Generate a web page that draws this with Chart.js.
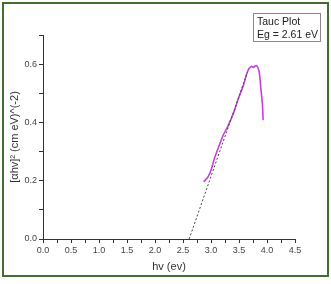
<!DOCTYPE html>
<html>
<head>
<meta charset="utf-8">
<script src="https://cdn.jsdelivr.net/npm/chart.js@4"></script>
<style>
    html, body { margin: 0; padding: 0; background: #fff; }
    #wrap { position: relative; width: 331px; height: 284px; }
    #frame {
        position: absolute; left: 2px; top: 2px; width: 323px; height: 271px;
        border: 2px solid #3f6e2e; pointer-events: none;
    }
    #note {
        position: absolute; left: 253px; top: 13px; width: 63px; height: 26px;
        border: 1px solid #888; padding: 1px 0 0 3px;
        font: 10.5px "Liberation Sans", Arial, sans-serif; color: #222; line-height: 13px;
    }
</style>
</head>
<body>
<div id="wrap">
    <canvas id="taucChart" width="331" height="284"></canvas>
    <div id="frame"></div>
    <div id="note">Tauc Plot<br>Eg = 2.61 eV</div>
</div>
<script>
// Tauc plot data
const photonEnergy = [2.87, 2.95, 3.01, 3.07, 3.16, 3.22, 3.31, 3.40, 3.49, 3.58, 3.64, 3.68, 3.73, 3.76, 3.79, 3.82, 3.86, 3.89, 3.92, 3.93];
const absorption = [0.196, 0.214, 0.242, 0.282, 0.328, 0.357, 0.391, 0.431, 0.482, 0.528, 0.568, 0.585, 0.593, 0.589, 0.594, 0.594, 0.574, 0.517, 0.459, 0.408];

// linear fit extrapolated to the axis (Eg = 2.61 eV)
const fitX = [2.61, 3.65];
const fitY = [0, 0.572];

const xTicks = [0, 0.5, 1, 1.5, 2, 2.5, 3, 3.5, 4, 4.5];
const yTicks = [0, 0.2, 0.4, 0.6];

const toPoints = (xs, ys) => xs.map((x, i) => ({ x: x, y: ys[i] }));
const isMajor = (v, list) => list.some(t => Math.abs(t - v) < 1e-6);

const FONT = '"Liberation Sans", Arial, sans-serif';
const AXIS = '#333';

new Chart(document.getElementById('taucChart'), {
    type: 'scatter',
    data: {
        datasets: [{
            data: toPoints(fitX, fitY),
            showLine: true,
            borderColor: '#444',
            borderWidth: 1,
            borderDash: [2, 2],
            pointRadius: 0
        }, {
            data: toPoints(photonEnergy, absorption),
            showLine: true,
            borderColor: '#c43fdc',
            borderWidth: 1.6,
            pointRadius: 0,
            tension: 0.2
        }]
    },
    options: {
        responsive: false,
        animation: false,
        layout: { padding: { left: 4, top: 35, right: 36, bottom: 5 } },
        plugins: { legend: { display: false }, tooltip: { enabled: false } },
        scales: {
            x: {
                type: 'linear',
                min: 0,
                max: 4.5,
                afterFit: (scale) => { scale.height = 40; },
                ticks: {
                    stepSize: 0.25,
                    autoSkip: false,
                    maxRotation: 0,
                    padding: 2,
                    color: '#444',
                    font: { family: FONT, size: 9 },
                    callback: (v) => isMajor(v, xTicks) ? v.toFixed(1) : ''
                },
                grid: {
                    drawOnChartArea: false,
                    tickLength: 4,
                    tickColor: AXIS
                },
                border: { color: AXIS, width: 1 },
                title: {
                    display: true,
                    text: 'hv (ev)',
                    color: '#333',
                    font: { family: FONT, size: 11 },
                    padding: { top: 0, bottom: 5 }
                }
            },
            y: {
                type: 'linear',
                min: 0,
                max: 0.7,
                afterFit: (scale) => { scale.width = 39; },
                ticks: {
                    stepSize: 0.1,
                    autoSkip: false,
                    padding: 2,
                    color: '#444',
                    font: { family: FONT, size: 9 },
                    callback: (v) => isMajor(v, yTicks) ? v.toFixed(1) : ''
                },
                grid: {
                    drawOnChartArea: false,
                    tickLength: 4,
                    tickColor: AXIS
                },
                border: { color: AXIS, width: 1 },
                title: {
                    display: true,
                    text: '[αhv]² (cm eV)^(-2)',
                    color: '#333',
                    font: { family: FONT, size: 11 },
                    padding: { top: 4, bottom: 0 }
                }
            }
        }
    }
});
</script>
</body>
</html>
